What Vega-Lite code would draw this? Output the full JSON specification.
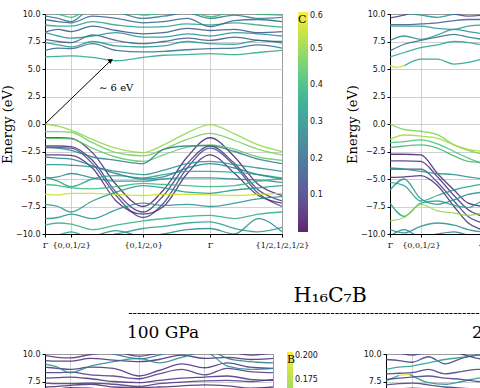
{
"$schema": "https://vega.github.io/schema/vega-lite/v6.json",
"padding": {"left": 0, "top": 9, "right": 0, "bottom": 0},
"autosize": {"type": "pad"},
"datasets": {
"A": [
{"b":"a1","c":0.36,"x":0,"y":6.1},{"b":"a1","c":0.36,"x":0.055,"y":6.15},{"b":"a1","c":0.36,"x":0.11,"y":6.2},{"b":"a1","c":0.36,"x":0.2,"y":6.05},{"b":"a1","c":0.36,"x":0.3,"y":5.75},{"b":"a1","c":0.36,"x":0.414,"y":6.05},{"b":"a1","c":0.36,"x":0.5,"y":6.25},{"b":"a1","c":0.36,"x":0.6,"y":6.3},{"b":"a1","c":0.36,"x":0.696,"y":6.4},{"b":"a1","c":0.36,"x":0.8,"y":6.3},{"b":"a1","c":0.36,"x":0.9,"y":6.5},{"b":"a1","c":0.36,"x":1,"y":6.7},
{"b":"a2","c":0.2,"x":0,"y":6.7},{"b":"a2","c":0.2,"x":0.055,"y":6.9},{"b":"a2","c":0.2,"x":0.11,"y":6.85},{"b":"a2","c":0.2,"x":0.2,"y":7.3},{"b":"a2","c":0.2,"x":0.3,"y":6.7},{"b":"a2","c":0.2,"x":0.414,"y":6.55},{"b":"a2","c":0.2,"x":0.5,"y":6.6},{"b":"a2","c":0.2,"x":0.6,"y":6.75},{"b":"a2","c":0.2,"x":0.696,"y":6.85},{"b":"a2","c":0.2,"x":0.8,"y":6.9},{"b":"a2","c":0.2,"x":0.9,"y":7.2},{"b":"a2","c":0.2,"x":1,"y":6.9},
{"b":"a3","c":0.32,"x":0,"y":7.4},{"b":"a3","c":0.32,"x":0.055,"y":7.2},{"b":"a3","c":0.32,"x":0.11,"y":7.0},{"b":"a3","c":0.32,"x":0.2,"y":7.5},{"b":"a3","c":0.32,"x":0.3,"y":7.1},{"b":"a3","c":0.32,"x":0.414,"y":7.0},{"b":"a3","c":0.32,"x":0.5,"y":7.1},{"b":"a3","c":0.32,"x":0.6,"y":7.5},{"b":"a3","c":0.32,"x":0.696,"y":7.3},{"b":"a3","c":0.32,"x":0.8,"y":7.25},{"b":"a3","c":0.32,"x":0.9,"y":7.6},{"b":"a3","c":0.32,"x":1,"y":7.35},
{"b":"a4","c":0.17,"x":0,"y":7.7},{"b":"a4","c":0.17,"x":0.055,"y":7.5},{"b":"a4","c":0.17,"x":0.11,"y":7.4},{"b":"a4","c":0.17,"x":0.2,"y":8.1},{"b":"a4","c":0.17,"x":0.3,"y":7.6},{"b":"a4","c":0.17,"x":0.414,"y":7.3},{"b":"a4","c":0.17,"x":0.5,"y":7.5},{"b":"a4","c":0.17,"x":0.6,"y":7.8},{"b":"a4","c":0.17,"x":0.696,"y":7.6},{"b":"a4","c":0.17,"x":0.8,"y":7.9},{"b":"a4","c":0.17,"x":0.9,"y":7.6},{"b":"a4","c":0.17,"x":1,"y":7.5},
{"b":"a5","c":0.3,"x":0,"y":8.3},{"b":"a5","c":0.3,"x":0.055,"y":8.0},{"b":"a5","c":0.3,"x":0.11,"y":7.8},{"b":"a5","c":0.3,"x":0.2,"y":8.0},{"b":"a5","c":0.3,"x":0.3,"y":8.3},{"b":"a5","c":0.3,"x":0.414,"y":7.9},{"b":"a5","c":0.3,"x":0.5,"y":7.9},{"b":"a5","c":0.3,"x":0.6,"y":8.2},{"b":"a5","c":0.3,"x":0.696,"y":8.0},{"b":"a5","c":0.3,"x":0.8,"y":8.3},{"b":"a5","c":0.3,"x":0.9,"y":8.2},{"b":"a5","c":0.3,"x":1,"y":8.0},
{"b":"a6","c":0.15,"x":0,"y":8.35},{"b":"a6","c":0.15,"x":0.055,"y":8.6},{"b":"a6","c":0.15,"x":0.11,"y":8.4},{"b":"a6","c":0.15,"x":0.2,"y":8.9},{"b":"a6","c":0.15,"x":0.3,"y":8.5},{"b":"a6","c":0.15,"x":0.414,"y":8.2},{"b":"a6","c":0.15,"x":0.5,"y":8.3},{"b":"a6","c":0.15,"x":0.6,"y":8.7},{"b":"a6","c":0.15,"x":0.696,"y":8.5},{"b":"a6","c":0.15,"x":0.8,"y":8.6},{"b":"a6","c":0.15,"x":0.9,"y":8.3},{"b":"a6","c":0.15,"x":1,"y":8.4},
{"b":"a7","c":0.35,"x":0,"y":9.0},{"b":"a7","c":0.35,"x":0.055,"y":8.9},{"b":"a7","c":0.35,"x":0.11,"y":8.9},{"b":"a7","c":0.35,"x":0.2,"y":9.3},{"b":"a7","c":0.35,"x":0.3,"y":9.0},{"b":"a7","c":0.35,"x":0.414,"y":8.8},{"b":"a7","c":0.35,"x":0.5,"y":8.85},{"b":"a7","c":0.35,"x":0.6,"y":9.1},{"b":"a7","c":0.35,"x":0.696,"y":9.0},{"b":"a7","c":0.35,"x":0.8,"y":9.2},{"b":"a7","c":0.35,"x":0.9,"y":9.0},{"b":"a7","c":0.35,"x":1,"y":8.8},
{"b":"a8","c":0.18,"x":0,"y":9.5},{"b":"a8","c":0.18,"x":0.055,"y":9.3},{"b":"a8","c":0.18,"x":0.11,"y":9.2},{"b":"a8","c":0.18,"x":0.2,"y":9.8},{"b":"a8","c":0.18,"x":0.3,"y":9.6},{"b":"a8","c":0.18,"x":0.414,"y":9.2},{"b":"a8","c":0.18,"x":0.5,"y":9.3},{"b":"a8","c":0.18,"x":0.6,"y":9.6},{"b":"a8","c":0.18,"x":0.696,"y":8.85},{"b":"a8","c":0.18,"x":0.8,"y":9.4},{"b":"a8","c":0.18,"x":0.9,"y":9.5},{"b":"a8","c":0.18,"x":1,"y":9.3},
{"b":"a9","c":0.25,"x":0,"y":9.8},{"b":"a9","c":0.25,"x":0.055,"y":9.6},{"b":"a9","c":0.25,"x":0.11,"y":9.3},{"b":"a9","c":0.25,"x":0.2,"y":10.5},{"b":"a9","c":0.25,"x":0.3,"y":10.2},{"b":"a9","c":0.25,"x":0.414,"y":9.6},{"b":"a9","c":0.25,"x":0.5,"y":9.8},{"b":"a9","c":0.25,"x":0.6,"y":10.1},{"b":"a9","c":0.25,"x":0.696,"y":9.6},{"b":"a9","c":0.25,"x":0.8,"y":9.9},{"b":"a9","c":0.25,"x":0.9,"y":9.6},{"b":"a9","c":0.25,"x":1,"y":9.7},
{"b":"a10","c":0.4,"x":0,"y":10.3},{"b":"a10","c":0.4,"x":0.055,"y":10.0},{"b":"a10","c":0.4,"x":0.11,"y":9.7},{"b":"a10","c":0.4,"x":0.2,"y":10.6},{"b":"a10","c":0.4,"x":0.3,"y":10.5},{"b":"a10","c":0.4,"x":0.414,"y":9.9},{"b":"a10","c":0.4,"x":0.5,"y":10.1},{"b":"a10","c":0.4,"x":0.6,"y":10.3},{"b":"a10","c":0.4,"x":0.696,"y":9.75},{"b":"a10","c":0.4,"x":0.8,"y":10.2},{"b":"a10","c":0.4,"x":0.9,"y":10.0},{"b":"a10","c":0.4,"x":1,"y":9.9},
{"b":"a11","c":0.5,"x":0,"y":0.0},{"b":"a11","c":0.5,"x":0.055,"y":-0.2},{"b":"a11","c":0.5,"x":0.11,"y":-0.55},{"b":"a11","c":0.5,"x":0.2,"y":-1.4},{"b":"a11","c":0.5,"x":0.3,"y":-2.2},{"b":"a11","c":0.5,"x":0.414,"y":-2.6},{"b":"a11","c":0.5,"x":0.5,"y":-1.9},{"b":"a11","c":0.5,"x":0.6,"y":-0.8},{"b":"a11","c":0.5,"x":0.696,"y":-0.05},{"b":"a11","c":0.5,"x":0.8,"y":-0.9},{"b":"a11","c":0.5,"x":0.9,"y":-1.9},{"b":"a11","c":0.5,"x":1,"y":-2.5},
{"b":"a12","c":0.47,"x":0,"y":-0.7},{"b":"a12","c":0.47,"x":0.055,"y":-0.7},{"b":"a12","c":0.47,"x":0.11,"y":-0.75},{"b":"a12","c":0.47,"x":0.2,"y":-1.7},{"b":"a12","c":0.47,"x":0.3,"y":-2.6},{"b":"a12","c":0.47,"x":0.414,"y":-2.9},{"b":"a12","c":0.47,"x":0.5,"y":-2.3},{"b":"a12","c":0.47,"x":0.6,"y":-1.4},{"b":"a12","c":0.47,"x":0.696,"y":-0.85},{"b":"a12","c":0.47,"x":0.8,"y":-1.5},{"b":"a12","c":0.47,"x":0.9,"y":-2.3},{"b":"a12","c":0.47,"x":1,"y":-2.8},
{"b":"a13","c":0.05,"x":0,"y":-1.25},{"b":"a13","c":0.05,"x":0.055,"y":-1.25},{"b":"a13","c":0.05,"x":0.11,"y":-1.3},{"b":"a13","c":0.05,"x":0.2,"y":-2.6},{"b":"a13","c":0.05,"x":0.3,"y":-5.5},{"b":"a13","c":0.05,"x":0.414,"y":-7.5},{"b":"a13","c":0.05,"x":0.5,"y":-6.0},{"b":"a13","c":0.05,"x":0.6,"y":-3.0},{"b":"a13","c":0.05,"x":0.696,"y":-1.25},{"b":"a13","c":0.05,"x":0.8,"y":-3.0},{"b":"a13","c":0.05,"x":0.9,"y":-5.5},{"b":"a13","c":0.05,"x":1,"y":-6.5},
{"b":"a14","c":0.45,"x":0,"y":-1.3},{"b":"a14","c":0.45,"x":0.055,"y":-1.3},{"b":"a14","c":0.45,"x":0.11,"y":-1.35},{"b":"a14","c":0.45,"x":0.2,"y":-2.2},{"b":"a14","c":0.45,"x":0.3,"y":-3.0},{"b":"a14","c":0.45,"x":0.414,"y":-3.4},{"b":"a14","c":0.45,"x":0.5,"y":-2.8},{"b":"a14","c":0.45,"x":0.6,"y":-2.1},{"b":"a14","c":0.45,"x":0.696,"y":-1.9},{"b":"a14","c":0.45,"x":0.8,"y":-2.3},{"b":"a14","c":0.45,"x":0.9,"y":-3.0},{"b":"a14","c":0.45,"x":1,"y":-3.3},
{"b":"a15","c":0.08,"x":0,"y":-2.0},{"b":"a15","c":0.08,"x":0.055,"y":-2.0},{"b":"a15","c":0.08,"x":0.11,"y":-2.05},{"b":"a15","c":0.08,"x":0.2,"y":-3.3},{"b":"a15","c":0.08,"x":0.3,"y":-6.2},{"b":"a15","c":0.08,"x":0.414,"y":-8.0},{"b":"a15","c":0.08,"x":0.5,"y":-6.5},{"b":"a15","c":0.08,"x":0.6,"y":-3.6},{"b":"a15","c":0.08,"x":0.696,"y":-2.0},{"b":"a15","c":0.08,"x":0.8,"y":-3.6},{"b":"a15","c":0.08,"x":0.9,"y":-6.0},{"b":"a15","c":0.08,"x":1,"y":-7.0},
{"b":"a16","c":0.12,"x":0,"y":-2.15},{"b":"a16","c":0.12,"x":0.055,"y":-2.15},{"b":"a16","c":0.12,"x":0.11,"y":-2.2},{"b":"a16","c":0.12,"x":0.2,"y":-3.6},{"b":"a16","c":0.12,"x":0.3,"y":-6.5},{"b":"a16","c":0.12,"x":0.414,"y":-8.5},{"b":"a16","c":0.12,"x":0.5,"y":-7.2},{"b":"a16","c":0.12,"x":0.6,"y":-4.0},{"b":"a16","c":0.12,"x":0.696,"y":-2.2},{"b":"a16","c":0.12,"x":0.8,"y":-3.8},{"b":"a16","c":0.12,"x":0.9,"y":-6.3},{"b":"a16","c":0.12,"x":1,"y":-7.5},
{"b":"a17","c":0.25,"x":0,"y":-2.1},{"b":"a17","c":0.25,"x":0.055,"y":-2.2},{"b":"a17","c":0.25,"x":0.11,"y":-2.4},{"b":"a17","c":0.25,"x":0.2,"y":-3.0},{"b":"a17","c":0.25,"x":0.3,"y":-3.3},{"b":"a17","c":0.25,"x":0.414,"y":-3.6},{"b":"a17","c":0.25,"x":0.5,"y":-2.3},{"b":"a17","c":0.25,"x":0.6,"y":-2.0},{"b":"a17","c":0.25,"x":0.696,"y":-1.97},{"b":"a17","c":0.25,"x":0.8,"y":-2.5},{"b":"a17","c":0.25,"x":0.9,"y":-3.2},{"b":"a17","c":0.25,"x":1,"y":-3.6},
{"b":"a18","c":0.06,"x":0,"y":-2.8},{"b":"a18","c":0.06,"x":0.055,"y":-2.8},{"b":"a18","c":0.06,"x":0.11,"y":-2.85},{"b":"a18","c":0.06,"x":0.2,"y":-4.0},{"b":"a18","c":0.06,"x":0.3,"y":-7.0},{"b":"a18","c":0.06,"x":0.414,"y":-8.2},{"b":"a18","c":0.06,"x":0.5,"y":-7.5},{"b":"a18","c":0.06,"x":0.6,"y":-4.5},{"b":"a18","c":0.06,"x":0.696,"y":-2.8},{"b":"a18","c":0.06,"x":0.8,"y":-4.5},{"b":"a18","c":0.06,"x":0.9,"y":-6.5},{"b":"a18","c":0.06,"x":1,"y":-7.2},
{"b":"a19","c":0.3,"x":0,"y":-3.7},{"b":"a19","c":0.3,"x":0.055,"y":-3.7},{"b":"a19","c":0.3,"x":0.11,"y":-3.75},{"b":"a19","c":0.3,"x":0.2,"y":-3.9},{"b":"a19","c":0.3,"x":0.3,"y":-4.3},{"b":"a19","c":0.3,"x":0.414,"y":-4.6},{"b":"a19","c":0.3,"x":0.5,"y":-4.2},{"b":"a19","c":0.3,"x":0.6,"y":-3.6},{"b":"a19","c":0.3,"x":0.696,"y":-3.4},{"b":"a19","c":0.3,"x":0.8,"y":-3.7},{"b":"a19","c":0.3,"x":0.9,"y":-4.0},{"b":"a19","c":0.3,"x":1,"y":-4.3},
{"b":"a20","c":0.35,"x":0,"y":-4.8},{"b":"a20","c":0.35,"x":0.055,"y":-5.2},{"b":"a20","c":0.35,"x":0.11,"y":-5.7},{"b":"a20","c":0.35,"x":0.2,"y":-5.0},{"b":"a20","c":0.35,"x":0.3,"y":-4.7},{"b":"a20","c":0.35,"x":0.414,"y":-4.9},{"b":"a20","c":0.35,"x":0.5,"y":-4.6},{"b":"a20","c":0.35,"x":0.6,"y":-4.3},{"b":"a20","c":0.35,"x":0.696,"y":-4.3},{"b":"a20","c":0.35,"x":0.8,"y":-4.4},{"b":"a20","c":0.35,"x":0.9,"y":-4.6},{"b":"a20","c":0.35,"x":1,"y":-4.9},
{"b":"a21","c":0.28,"x":0,"y":-4.9},{"b":"a21","c":0.28,"x":0.055,"y":-4.8},{"b":"a21","c":0.28,"x":0.11,"y":-4.5},{"b":"a21","c":0.28,"x":0.2,"y":-4.9},{"b":"a21","c":0.28,"x":0.3,"y":-5.2},{"b":"a21","c":0.28,"x":0.414,"y":-5.2},{"b":"a21","c":0.28,"x":0.5,"y":-5.0},{"b":"a21","c":0.28,"x":0.6,"y":-4.9},{"b":"a21","c":0.28,"x":0.696,"y":-4.9},{"b":"a21","c":0.28,"x":0.8,"y":-5.0},{"b":"a21","c":0.28,"x":0.9,"y":-5.1},{"b":"a21","c":0.28,"x":1,"y":-5.3},
{"b":"a22","c":0.55,"x":0,"y":-6.4},{"b":"a22","c":0.55,"x":0.055,"y":-6.45},{"b":"a22","c":0.55,"x":0.11,"y":-6.3},{"b":"a22","c":0.55,"x":0.2,"y":-6.3},{"b":"a22","c":0.55,"x":0.3,"y":-6.4},{"b":"a22","c":0.55,"x":0.414,"y":-6.5},{"b":"a22","c":0.55,"x":0.5,"y":-6.4},{"b":"a22","c":0.55,"x":0.6,"y":-6.4},{"b":"a22","c":0.55,"x":0.696,"y":-6.45},{"b":"a22","c":0.55,"x":0.8,"y":-6.5},{"b":"a22","c":0.55,"x":0.9,"y":-6.4},{"b":"a22","c":0.55,"x":1,"y":-6.3},
{"b":"a23","c":0.32,"x":0,"y":-7.3},{"b":"a23","c":0.32,"x":0.055,"y":-7.5},{"b":"a23","c":0.32,"x":0.11,"y":-8.0},{"b":"a23","c":0.32,"x":0.2,"y":-7.0},{"b":"a23","c":0.32,"x":0.3,"y":-6.2},{"b":"a23","c":0.32,"x":0.414,"y":-5.6},{"b":"a23","c":0.32,"x":0.5,"y":-5.8},{"b":"a23","c":0.32,"x":0.6,"y":-6.2},{"b":"a23","c":0.32,"x":0.696,"y":-6.3},{"b":"a23","c":0.32,"x":0.8,"y":-6.0},{"b":"a23","c":0.32,"x":0.9,"y":-5.8},{"b":"a23","c":0.32,"x":1,"y":-5.6},
{"b":"a24","c":0.3,"x":0,"y":-8.6},{"b":"a24","c":0.3,"x":0.055,"y":-8.5},{"b":"a24","c":0.3,"x":0.11,"y":-8.2},{"b":"a24","c":0.3,"x":0.2,"y":-8.6},{"b":"a24","c":0.3,"x":0.3,"y":-7.8},{"b":"a24","c":0.3,"x":0.414,"y":-7.2},{"b":"a24","c":0.3,"x":0.5,"y":-7.4},{"b":"a24","c":0.3,"x":0.6,"y":-7.3},{"b":"a24","c":0.3,"x":0.696,"y":-7.5},{"b":"a24","c":0.3,"x":0.8,"y":-7.2},{"b":"a24","c":0.3,"x":0.9,"y":-6.8},{"b":"a24","c":0.3,"x":1,"y":-6.6},
{"b":"a25","c":0.38,"x":0,"y":-9.2},{"b":"a25","c":0.38,"x":0.055,"y":-9.0},{"b":"a25","c":0.38,"x":0.11,"y":-9.1},{"b":"a25","c":0.38,"x":0.2,"y":-9.6},{"b":"a25","c":0.38,"x":0.3,"y":-9.2},{"b":"a25","c":0.38,"x":0.414,"y":-8.8},{"b":"a25","c":0.38,"x":0.5,"y":-8.6},{"b":"a25","c":0.38,"x":0.6,"y":-8.4},{"b":"a25","c":0.38,"x":0.696,"y":-8.3},{"b":"a25","c":0.38,"x":0.8,"y":-8.6},{"b":"a25","c":0.38,"x":0.9,"y":-8.2},{"b":"a25","c":0.38,"x":1,"y":-8.0},
{"b":"a26","c":0.33,"x":0,"y":-10.3},{"b":"a26","c":0.33,"x":0.055,"y":-10.1},{"b":"a26","c":0.33,"x":0.11,"y":-9.8},{"b":"a26","c":0.33,"x":0.2,"y":-10.4},{"b":"a26","c":0.33,"x":0.3,"y":-10.0},{"b":"a26","c":0.33,"x":0.414,"y":-9.5},{"b":"a26","c":0.33,"x":0.5,"y":-9.3},{"b":"a26","c":0.33,"x":0.6,"y":-9.0},{"b":"a26","c":0.33,"x":0.696,"y":-8.9},{"b":"a26","c":0.33,"x":0.8,"y":-9.5},{"b":"a26","c":0.33,"x":0.9,"y":-9.8},{"b":"a26","c":0.33,"x":1,"y":-9.4},
{"b":"a27","c":0.28,"x":0,"y":-10.6},{"b":"a27","c":0.28,"x":0.055,"y":-10.5},{"b":"a27","c":0.28,"x":0.11,"y":-10.4},{"b":"a27","c":0.28,"x":0.2,"y":-10.2},{"b":"a27","c":0.28,"x":0.3,"y":-9.7},{"b":"a27","c":0.28,"x":0.414,"y":-10.2},{"b":"a27","c":0.28,"x":0.5,"y":-10.0},{"b":"a27","c":0.28,"x":0.6,"y":-9.6},{"b":"a27","c":0.28,"x":0.696,"y":-9.5},{"b":"a27","c":0.28,"x":0.8,"y":-10.0},{"b":"a27","c":0.28,"x":0.9,"y":-8.6},{"b":"a27","c":0.28,"x":1,"y":-9.8},
{"b":"a28","c":0.25,"x":0,"y":-3.0},{"b":"a28","c":0.25,"x":0.055,"y":-3.1},{"b":"a28","c":0.25,"x":0.11,"y":-3.2},{"b":"a28","c":0.25,"x":0.2,"y":-3.8},{"b":"a28","c":0.25,"x":0.3,"y":-4.5},{"b":"a28","c":0.25,"x":0.414,"y":-5.0},{"b":"a28","c":0.25,"x":0.5,"y":-4.8},{"b":"a28","c":0.25,"x":0.6,"y":-4.0},{"b":"a28","c":0.25,"x":0.696,"y":-3.6},{"b":"a28","c":0.25,"x":0.8,"y":-4.0},{"b":"a28","c":0.25,"x":0.9,"y":-4.6},{"b":"a28","c":0.25,"x":1,"y":-5.0},
{"b":"a29","c":0.4,"x":0,"y":-5.5},{"b":"a29","c":0.4,"x":0.055,"y":-5.6},{"b":"a29","c":0.4,"x":0.11,"y":-5.8},{"b":"a29","c":0.4,"x":0.2,"y":-5.9},{"b":"a29","c":0.4,"x":0.3,"y":-5.7},{"b":"a29","c":0.4,"x":0.414,"y":-5.4},{"b":"a29","c":0.4,"x":0.5,"y":-5.5},{"b":"a29","c":0.4,"x":0.6,"y":-5.6},{"b":"a29","c":0.4,"x":0.696,"y":-5.7},{"b":"a29","c":0.4,"x":0.8,"y":-5.6},{"b":"a29","c":0.4,"x":0.9,"y":-5.2},{"b":"a29","c":0.4,"x":1,"y":-5.0}
],
"B": [
{"b":"b1","c":0.48,"x":0,"y":0.0},{"b":"b1","c":0.48,"x":0.06,"y":-0.5},{"b":"b1","c":0.48,"x":0.13,"y":-0.66},{"b":"b1","c":0.48,"x":0.2,"y":-0.97},{"b":"b1","c":0.48,"x":0.27,"y":-1.9},{"b":"b1","c":0.48,"x":0.33,"y":-2.4},{"b":"b1","c":0.48,"x":0.39,"y":-2.75},{"b":"b1","c":0.48,"x":0.45,"y":-3.0},
{"b":"b2","c":0.52,"x":0,"y":-1.4},{"b":"b2","c":0.52,"x":0.06,"y":-1.0},{"b":"b2","c":0.52,"x":0.13,"y":-1.1},{"b":"b2","c":0.52,"x":0.2,"y":-1.3},{"b":"b2","c":0.52,"x":0.27,"y":-1.9},{"b":"b2","c":0.52,"x":0.33,"y":-2.3},{"b":"b2","c":0.52,"x":0.39,"y":-2.5},{"b":"b2","c":0.52,"x":0.45,"y":-2.8},
{"b":"b3","c":0.42,"x":0,"y":-1.7},{"b":"b3","c":0.42,"x":0.06,"y":-1.6},{"b":"b3","c":0.42,"x":0.13,"y":-1.45},{"b":"b3","c":0.42,"x":0.2,"y":-1.8},{"b":"b3","c":0.42,"x":0.27,"y":-2.5},{"b":"b3","c":0.42,"x":0.33,"y":-3.1},{"b":"b3","c":0.42,"x":0.39,"y":-3.6},{"b":"b3","c":0.42,"x":0.45,"y":-3.9},
{"b":"b4","c":0.4,"x":0,"y":-2.15},{"b":"b4","c":0.4,"x":0.06,"y":-2.0},{"b":"b4","c":0.4,"x":0.13,"y":-1.9},{"b":"b4","c":0.4,"x":0.2,"y":-2.2},{"b":"b4","c":0.4,"x":0.27,"y":-2.9},{"b":"b4","c":0.4,"x":0.33,"y":-3.4},{"b":"b4","c":0.4,"x":0.39,"y":-3.5},{"b":"b4","c":0.4,"x":0.45,"y":-3.6},
{"b":"b5","c":0.05,"x":0,"y":-2.75},{"b":"b5","c":0.05,"x":0.06,"y":-2.75},{"b":"b5","c":0.05,"x":0.13,"y":-2.8},{"b":"b5","c":0.05,"x":0.2,"y":-4.5},{"b":"b5","c":0.05,"x":0.27,"y":-6.0},{"b":"b5","c":0.05,"x":0.33,"y":-7.2},{"b":"b5","c":0.05,"x":0.39,"y":-7.5},{"b":"b5","c":0.05,"x":0.45,"y":-7.8},
{"b":"b6","c":0.08,"x":0,"y":-3.35},{"b":"b6","c":0.08,"x":0.06,"y":-3.35},{"b":"b6","c":0.08,"x":0.13,"y":-3.4},{"b":"b6","c":0.08,"x":0.2,"y":-4.8},{"b":"b6","c":0.08,"x":0.27,"y":-6.5},{"b":"b6","c":0.08,"x":0.33,"y":-7.8},{"b":"b6","c":0.08,"x":0.39,"y":-8.4},{"b":"b6","c":0.08,"x":0.45,"y":-8.8},
{"b":"b7","c":0.1,"x":0,"y":-4.1},{"b":"b7","c":0.1,"x":0.06,"y":-4.1},{"b":"b7","c":0.1,"x":0.13,"y":-4.1},{"b":"b7","c":0.1,"x":0.2,"y":-5.3},{"b":"b7","c":0.1,"x":0.27,"y":-7.0},{"b":"b7","c":0.1,"x":0.33,"y":-8.4},{"b":"b7","c":0.1,"x":0.39,"y":-9.0},{"b":"b7","c":0.1,"x":0.45,"y":-9.4},
{"b":"b8","c":0.06,"x":0,"y":-4.85},{"b":"b8","c":0.06,"x":0.06,"y":-4.8},{"b":"b8","c":0.06,"x":0.13,"y":-4.7},{"b":"b8","c":0.06,"x":0.2,"y":-5.6},{"b":"b8","c":0.06,"x":0.27,"y":-7.5},{"b":"b8","c":0.06,"x":0.33,"y":-9.0},{"b":"b8","c":0.06,"x":0.39,"y":-9.65},{"b":"b8","c":0.06,"x":0.45,"y":-10.2},
{"b":"b9","c":0.3,"x":0,"y":-4.0},{"b":"b9","c":0.3,"x":0.06,"y":-4.1},{"b":"b9","c":0.3,"x":0.13,"y":-4.3},{"b":"b9","c":0.3,"x":0.2,"y":-4.5},{"b":"b9","c":0.3,"x":0.27,"y":-4.6},{"b":"b9","c":0.3,"x":0.33,"y":-4.8},{"b":"b9","c":0.3,"x":0.39,"y":-5.0},{"b":"b9","c":0.3,"x":0.45,"y":-5.2},
{"b":"b10","c":0.33,"x":0,"y":-5.3},{"b":"b10","c":0.33,"x":0.06,"y":-5.6},{"b":"b10","c":0.33,"x":0.13,"y":-7.0},{"b":"b10","c":0.33,"x":0.2,"y":-6.5},{"b":"b10","c":0.33,"x":0.27,"y":-6.0},{"b":"b10","c":0.33,"x":0.33,"y":-5.7},{"b":"b10","c":0.33,"x":0.39,"y":-5.5},{"b":"b10","c":0.33,"x":0.45,"y":-5.6},
{"b":"b11","c":0.3,"x":0,"y":-6.0},{"b":"b11","c":0.3,"x":0.06,"y":-5.0},{"b":"b11","c":0.3,"x":0.13,"y":-6.8},{"b":"b11","c":0.3,"x":0.2,"y":-7.3},{"b":"b11","c":0.3,"x":0.27,"y":-6.9},{"b":"b11","c":0.3,"x":0.33,"y":-6.4},{"b":"b11","c":0.3,"x":0.39,"y":-6.2},{"b":"b11","c":0.3,"x":0.45,"y":-6.1},
{"b":"b12","c":0.35,"x":0,"y":-7.2},{"b":"b12","c":0.35,"x":0.06,"y":-8.4},{"b":"b12","c":0.35,"x":0.13,"y":-7.2},{"b":"b12","c":0.35,"x":0.2,"y":-7.0},{"b":"b12","c":0.35,"x":0.27,"y":-7.4},{"b":"b12","c":0.35,"x":0.33,"y":-7.6},{"b":"b12","c":0.35,"x":0.39,"y":-7.0},{"b":"b12","c":0.35,"x":0.45,"y":-6.8},
{"b":"b13","c":0.5,"x":0,"y":-8.8},{"b":"b13","c":0.5,"x":0.06,"y":-8.5},{"b":"b13","c":0.5,"x":0.13,"y":-7.3},{"b":"b13","c":0.5,"x":0.2,"y":-7.9},{"b":"b13","c":0.5,"x":0.27,"y":-8.1},{"b":"b13","c":0.5,"x":0.33,"y":-8.3},{"b":"b13","c":0.5,"x":0.39,"y":-8.1},{"b":"b13","c":0.5,"x":0.45,"y":-8.0},
{"b":"b14","c":0.3,"x":0,"y":-9.6},{"b":"b14","c":0.3,"x":0.06,"y":-9.9},{"b":"b14","c":0.3,"x":0.13,"y":-9.3},{"b":"b14","c":0.3,"x":0.2,"y":-9.0},{"b":"b14","c":0.3,"x":0.27,"y":-9.2},{"b":"b14","c":0.3,"x":0.33,"y":-9.6},{"b":"b14","c":0.3,"x":0.39,"y":-9.8},{"b":"b14","c":0.3,"x":0.45,"y":-9.5},
{"b":"b15","c":0.25,"x":0,"y":-10.2},{"b":"b15","c":0.25,"x":0.06,"y":-9.6},{"b":"b15","c":0.25,"x":0.13,"y":-10.3},{"b":"b15","c":0.25,"x":0.2,"y":-10.0},{"b":"b15","c":0.25,"x":0.27,"y":-9.8},{"b":"b15","c":0.25,"x":0.33,"y":-10.1},{"b":"b15","c":0.25,"x":0.39,"y":-10.4},{"b":"b15","c":0.25,"x":0.45,"y":-10.0},
{"b":"b16a","c":0.56,"x":0,"y":5.3},{"b":"b16a","c":0.56,"x":0.03,"y":5.15},{"b":"b16a","c":0.56,"x":0.06,"y":5.3},
{"b":"b16b","c":0.34,"x":0.06,"y":5.3},{"b":"b16b","c":0.34,"x":0.13,"y":5.9},{"b":"b16b","c":0.34,"x":0.2,"y":5.9},{"b":"b16b","c":0.34,"x":0.27,"y":5.45},{"b":"b16b","c":0.34,"x":0.33,"y":5.6},{"b":"b16b","c":0.34,"x":0.39,"y":5.9},{"b":"b16b","c":0.34,"x":0.45,"y":6.0},
{"b":"b17","c":0.35,"x":0,"y":6.1},{"b":"b17","c":0.35,"x":0.06,"y":6.5},{"b":"b17","c":0.35,"x":0.13,"y":6.95},{"b":"b17","c":0.35,"x":0.2,"y":7.2},{"b":"b17","c":0.35,"x":0.27,"y":7.5},{"b":"b17","c":0.35,"x":0.33,"y":7.4},{"b":"b17","c":0.35,"x":0.39,"y":7.2},{"b":"b17","c":0.35,"x":0.45,"y":7.0},
{"b":"b18","c":0.2,"x":0,"y":6.65},{"b":"b18","c":0.2,"x":0.06,"y":7.25},{"b":"b18","c":0.2,"x":0.13,"y":7.6},{"b":"b18","c":0.2,"x":0.2,"y":7.9},{"b":"b18","c":0.2,"x":0.27,"y":8.15},{"b":"b18","c":0.2,"x":0.33,"y":7.9},{"b":"b18","c":0.2,"x":0.39,"y":7.7},{"b":"b18","c":0.2,"x":0.45,"y":7.6},
{"b":"b19","c":0.3,"x":0,"y":7.6},{"b":"b19","c":0.3,"x":0.06,"y":8.0},{"b":"b19","c":0.3,"x":0.13,"y":7.7},{"b":"b19","c":0.3,"x":0.2,"y":8.1},{"b":"b19","c":0.3,"x":0.27,"y":8.6},{"b":"b19","c":0.3,"x":0.33,"y":8.4},{"b":"b19","c":0.3,"x":0.39,"y":8.2},{"b":"b19","c":0.3,"x":0.45,"y":8.0},
{"b":"b20","c":0.32,"x":0,"y":8.9},{"b":"b20","c":0.32,"x":0.06,"y":8.9},{"b":"b20","c":0.32,"x":0.13,"y":8.9},{"b":"b20","c":0.32,"x":0.2,"y":8.7},{"b":"b20","c":0.32,"x":0.27,"y":8.6},{"b":"b20","c":0.32,"x":0.33,"y":8.9},{"b":"b20","c":0.32,"x":0.39,"y":9.0},{"b":"b20","c":0.32,"x":0.45,"y":8.8},
{"b":"b21","c":0.17,"x":0,"y":9.04},{"b":"b21","c":0.17,"x":0.06,"y":9.04},{"b":"b21","c":0.17,"x":0.13,"y":9.1},{"b":"b21","c":0.17,"x":0.2,"y":9.2},{"b":"b21","c":0.17,"x":0.27,"y":9.4},{"b":"b21","c":0.17,"x":0.33,"y":9.5},{"b":"b21","c":0.17,"x":0.39,"y":9.5},{"b":"b21","c":0.17,"x":0.45,"y":9.3},
{"b":"b22","c":0.1,"x":0,"y":9.64},{"b":"b22","c":0.1,"x":0.06,"y":9.9},{"b":"b22","c":0.1,"x":0.13,"y":10.3},{"b":"b22","c":0.1,"x":0.2,"y":10.2},{"b":"b22","c":0.1,"x":0.27,"y":10.0},{"b":"b22","c":0.1,"x":0.33,"y":9.8},{"b":"b22","c":0.1,"x":0.39,"y":9.9},{"b":"b22","c":0.1,"x":0.45,"y":10.2},
{"b":"b23","c":0.3,"x":0,"y":10.3},{"b":"b23","c":0.3,"x":0.06,"y":10.1},{"b":"b23","c":0.3,"x":0.13,"y":9.9},{"b":"b23","c":0.3,"x":0.2,"y":9.7},{"b":"b23","c":0.3,"x":0.27,"y":10.0},{"b":"b23","c":0.3,"x":0.33,"y":10.3},{"b":"b23","c":0.3,"x":0.39,"y":10.1},{"b":"b23","c":0.3,"x":0.45,"y":9.8}
],
"C": [
{"b":"c1","c":0.03,"x":0,"y":9.85},{"b":"c1","c":0.03,"x":0.055,"y":9.7},{"b":"c1","c":0.03,"x":0.11,"y":9.65},{"b":"c1","c":0.03,"x":0.2,"y":9.95},{"b":"c1","c":0.03,"x":0.3,"y":10.2},{"b":"c1","c":0.03,"x":0.414,"y":9.8},{"b":"c1","c":0.03,"x":0.5,"y":10.1},{"b":"c1","c":0.03,"x":0.6,"y":10.3},{"b":"c1","c":0.03,"x":0.7,"y":10.1},{"b":"c1","c":0.03,"x":0.8,"y":10.2},{"b":"c1","c":0.03,"x":0.9,"y":9.9},{"b":"c1","c":0.03,"x":1,"y":10.1},
{"b":"c2","c":0.02,"x":0,"y":9.4},{"b":"c2","c":0.02,"x":0.055,"y":9.35},{"b":"c2","c":0.02,"x":0.11,"y":9.35},{"b":"c2","c":0.02,"x":0.2,"y":9.6},{"b":"c2","c":0.02,"x":0.3,"y":9.45},{"b":"c2","c":0.02,"x":0.414,"y":9.3},{"b":"c2","c":0.02,"x":0.5,"y":9.5},{"b":"c2","c":0.02,"x":0.6,"y":9.9},{"b":"c2","c":0.02,"x":0.7,"y":9.6},{"b":"c2","c":0.02,"x":0.8,"y":9.7},{"b":"c2","c":0.02,"x":0.9,"y":9.5},{"b":"c2","c":0.02,"x":1,"y":9.6},
{"b":"c3","c":0.025,"x":0,"y":8.8},{"b":"c3","c":0.025,"x":0.055,"y":8.7},{"b":"c3","c":0.025,"x":0.11,"y":8.6},{"b":"c3","c":0.025,"x":0.2,"y":8.8},{"b":"c3","c":0.025,"x":0.3,"y":8.7},{"b":"c3","c":0.025,"x":0.414,"y":8.0},{"b":"c3","c":0.025,"x":0.5,"y":8.5},{"b":"c3","c":0.025,"x":0.6,"y":9.1},{"b":"c3","c":0.025,"x":0.7,"y":8.75},{"b":"c3","c":0.025,"x":0.8,"y":9.2},{"b":"c3","c":0.025,"x":0.9,"y":8.8},{"b":"c3","c":0.025,"x":1,"y":8.7},
{"b":"c4","c":0.03,"x":0,"y":8.3},{"b":"c4","c":0.03,"x":0.055,"y":8.3},{"b":"c4","c":0.03,"x":0.11,"y":8.35},{"b":"c4","c":0.03,"x":0.2,"y":8.1},{"b":"c4","c":0.03,"x":0.3,"y":8.0},{"b":"c4","c":0.03,"x":0.414,"y":7.75},{"b":"c4","c":0.03,"x":0.5,"y":8.2},{"b":"c4","c":0.03,"x":0.6,"y":8.6},{"b":"c4","c":0.03,"x":0.7,"y":8.1},{"b":"c4","c":0.03,"x":0.8,"y":8.7},{"b":"c4","c":0.03,"x":0.9,"y":8.4},{"b":"c4","c":0.03,"x":1,"y":8.3},
{"b":"c5","c":0.09,"x":0,"y":9.1},{"b":"c5","c":0.09,"x":0.055,"y":8.8},{"b":"c5","c":0.09,"x":0.11,"y":8.3},{"b":"c5","c":0.09,"x":0.2,"y":8.9},{"b":"c5","c":0.09,"x":0.3,"y":9.3},{"b":"c5","c":0.09,"x":0.414,"y":9.6},{"b":"c5","c":0.09,"x":0.5,"y":9.2},{"b":"c5","c":0.09,"x":0.6,"y":9.7},{"b":"c5","c":0.09,"x":0.7,"y":10.2},{"b":"c5","c":0.09,"x":0.8,"y":8.9},{"b":"c5","c":0.09,"x":0.9,"y":8.6},{"b":"c5","c":0.09,"x":1,"y":8.7},
{"b":"c6","c":0.025,"x":0,"y":7.8},{"b":"c6","c":0.025,"x":0.055,"y":7.85},{"b":"c6","c":0.025,"x":0.11,"y":7.9},{"b":"c6","c":0.025,"x":0.2,"y":7.75},{"b":"c6","c":0.025,"x":0.3,"y":7.5},{"b":"c6","c":0.025,"x":0.414,"y":7.4},{"b":"c6","c":0.025,"x":0.5,"y":7.6},{"b":"c6","c":0.025,"x":0.6,"y":7.8},{"b":"c6","c":0.025,"x":0.7,"y":7.9},{"b":"c6","c":0.025,"x":0.8,"y":8.0},{"b":"c6","c":0.025,"x":0.9,"y":7.7},{"b":"c6","c":0.025,"x":1,"y":7.6},
{"b":"c7","c":0.03,"x":0,"y":7.35},{"b":"c7","c":0.03,"x":0.055,"y":7.3},{"b":"c7","c":0.03,"x":0.11,"y":7.3},{"b":"c7","c":0.03,"x":0.2,"y":7.35},{"b":"c7","c":0.03,"x":0.3,"y":7.25},{"b":"c7","c":0.03,"x":0.414,"y":7.05},{"b":"c7","c":0.03,"x":0.5,"y":7.3},{"b":"c7","c":0.03,"x":0.6,"y":7.45},{"b":"c7","c":0.03,"x":0.7,"y":7.55},{"b":"c7","c":0.03,"x":0.8,"y":7.6},{"b":"c7","c":0.03,"x":0.9,"y":7.5},{"b":"c7","c":0.03,"x":1,"y":7.7},
{"b":"c8","c":0.02,"x":0,"y":7.0},{"b":"c8","c":0.02,"x":0.055,"y":7.05},{"b":"c8","c":0.02,"x":0.11,"y":7.15},{"b":"c8","c":0.02,"x":0.2,"y":7.25},{"b":"c8","c":0.02,"x":0.3,"y":7.0},{"b":"c8","c":0.02,"x":0.414,"y":6.95},{"b":"c8","c":0.02,"x":0.5,"y":7.0},{"b":"c8","c":0.02,"x":0.6,"y":7.1},{"b":"c8","c":0.02,"x":0.7,"y":7.2},{"b":"c8","c":0.02,"x":0.8,"y":7.1},{"b":"c8","c":0.02,"x":0.9,"y":6.9},{"b":"c8","c":0.02,"x":1,"y":7.0},
{"b":"c9","c":0.025,"x":0,"y":6.6},{"b":"c9","c":0.025,"x":0.055,"y":6.8},{"b":"c9","c":0.025,"x":0.11,"y":6.95},{"b":"c9","c":0.025,"x":0.2,"y":6.9},{"b":"c9","c":0.025,"x":0.3,"y":6.7},{"b":"c9","c":0.025,"x":0.414,"y":6.6},{"b":"c9","c":0.025,"x":0.5,"y":6.7},{"b":"c9","c":0.025,"x":0.6,"y":6.8},{"b":"c9","c":0.025,"x":0.7,"y":6.8},{"b":"c9","c":0.025,"x":0.8,"y":6.7},{"b":"c9","c":0.025,"x":0.9,"y":6.6},{"b":"c9","c":0.025,"x":1,"y":6.5},
{"b":"c10","c":0.08,"x":0,"y":10.5},{"b":"c10","c":0.08,"x":0.055,"y":10.3},{"b":"c10","c":0.08,"x":0.11,"y":10.1},{"b":"c10","c":0.08,"x":0.2,"y":10.3},{"b":"c10","c":0.08,"x":0.3,"y":10.0},{"b":"c10","c":0.08,"x":0.414,"y":9.55},{"b":"c10","c":0.08,"x":0.5,"y":9.9},{"b":"c10","c":0.08,"x":0.6,"y":10.4},{"b":"c10","c":0.08,"x":0.7,"y":10.5},{"b":"c10","c":0.08,"x":0.8,"y":9.6},{"b":"c10","c":0.08,"x":0.9,"y":9.3},{"b":"c10","c":0.08,"x":1,"y":9.2}
],
"D": [
{"b":"d1","c":0.03,"x":0,"y":9.5},{"b":"d1","c":0.03,"x":0.055,"y":9.4},{"b":"d1","c":0.03,"x":0.11,"y":9.25},{"b":"d1","c":0.03,"x":0.18,"y":9.75},{"b":"d1","c":0.03,"x":0.25,"y":9.1},{"b":"d1","c":0.03,"x":0.32,"y":9.6},{"b":"d1","c":0.03,"x":0.39,"y":9.9},{"b":"d1","c":0.03,"x":0.46,"y":9.7},
{"b":"d2","c":0.11,"x":0,"y":8.6},{"b":"d2","c":0.11,"x":0.055,"y":8.8},{"b":"d2","c":0.11,"x":0.11,"y":8.9},{"b":"d2","c":0.11,"x":0.18,"y":9.2},{"b":"d2","c":0.11,"x":0.25,"y":9.5},{"b":"d2","c":0.11,"x":0.32,"y":9.7},{"b":"d2","c":0.11,"x":0.39,"y":9.9},{"b":"d2","c":0.11,"x":0.46,"y":10.2},
{"b":"d3a","c":0.12,"x":0,"y":7.55},{"b":"d3a","c":0.12,"x":0.055,"y":8.05},
{"b":"d3b","c":0.19,"x":0.055,"y":8.05},{"b":"d3b","c":0.19,"x":0.1,"y":8.15},
{"b":"d3c","c":0.1,"x":0.1,"y":8.15},{"b":"d3c","c":0.1,"x":0.18,"y":7.4},{"b":"d3c","c":0.1,"x":0.25,"y":7.25},{"b":"d3c","c":0.1,"x":0.32,"y":7.5},{"b":"d3c","c":0.1,"x":0.39,"y":7.8},{"b":"d3c","c":0.1,"x":0.46,"y":8.0},
{"b":"d4","c":0.03,"x":0,"y":8.2},{"b":"d4","c":0.03,"x":0.055,"y":8.25},{"b":"d4","c":0.03,"x":0.11,"y":8.3},{"b":"d4","c":0.03,"x":0.18,"y":8.6},{"b":"d4","c":0.03,"x":0.25,"y":8.2},{"b":"d4","c":0.03,"x":0.32,"y":8.4},{"b":"d4","c":0.03,"x":0.39,"y":8.6},{"b":"d4","c":0.03,"x":0.46,"y":8.5},
{"b":"d5","c":0.035,"x":0,"y":7.7},{"b":"d5","c":0.035,"x":0.055,"y":7.8},{"b":"d5","c":0.035,"x":0.11,"y":7.9},{"b":"d5","c":0.035,"x":0.18,"y":8.0},{"b":"d5","c":0.035,"x":0.25,"y":7.8},{"b":"d5","c":0.035,"x":0.32,"y":7.7},{"b":"d5","c":0.035,"x":0.39,"y":7.5},{"b":"d5","c":0.035,"x":0.46,"y":7.4},
{"b":"d6","c":0.03,"x":0,"y":7.2},{"b":"d6","c":0.03,"x":0.055,"y":7.3},{"b":"d6","c":0.03,"x":0.11,"y":7.35},{"b":"d6","c":0.03,"x":0.18,"y":7.2},{"b":"d6","c":0.03,"x":0.25,"y":7.0},{"b":"d6","c":0.03,"x":0.32,"y":6.9},{"b":"d6","c":0.03,"x":0.39,"y":6.8},{"b":"d6","c":0.03,"x":0.46,"y":6.7},
{"b":"d7","c":0.03,"x":0,"y":10.3},{"b":"d7","c":0.03,"x":0.055,"y":10.1},{"b":"d7","c":0.03,"x":0.11,"y":9.9},{"b":"d7","c":0.03,"x":0.18,"y":10.2},{"b":"d7","c":0.03,"x":0.25,"y":10.4},{"b":"d7","c":0.03,"x":0.32,"y":10.0},{"b":"d7","c":0.03,"x":0.39,"y":9.6},{"b":"d7","c":0.03,"x":0.46,"y":9.4},
{"b":"d8","c":0.025,"x":0,"y":6.7},{"b":"d8","c":0.025,"x":0.055,"y":6.8},{"b":"d8","c":0.025,"x":0.11,"y":6.9},{"b":"d8","c":0.025,"x":0.18,"y":6.8},{"b":"d8","c":0.025,"x":0.25,"y":6.6},{"b":"d8","c":0.025,"x":0.32,"y":6.5},{"b":"d8","c":0.025,"x":0.39,"y":6.4},{"b":"d8","c":0.025,"x":0.46,"y":6.3}
],
"arrow": [{"x":0,"y":0,"x2":0.278,"y2":5.78}],
"head": [{"x":0.278,"y":5.78}],
"note": [{"x":0.228,"y":3.27,"t":"∼ 6 eV"}]
},
"vconcat": [
{
"hconcat": [
{
"width": 237, "height": 220,
"encoding": {
  "x": {"field": "x", "type": "quantitative", "scale": {"domain": [0, 1], "nice": false, "zero": false},
        "axis": {"values": [0, 0.11, 0.414, 0.696, 1], "title": null, "labelExpr": "datum.value < 0.01 ? 'Γ' : datum.value < 0.2 ? '{0,0,1/2}' : datum.value < 0.5 ? '{0,1/2,0}' : datum.value < 0.9 ? 'Γ' : '{1/2,1/2,1/2}'",
                 "labelFont": "DejaVu Serif", "labelFontSize": {"condition": {"test": "datum.label == 'Γ'", "value": 10.5}, "value": 8},
                 "labelBaseline": "alphabetic", "labelPadding": 10, "labelFlush": false, "labelOverlap": false}},
  "y": {"field": "y", "type": "quantitative", "scale": {"domain": [-10, 10], "nice": false},
        "axis": {"values": [-10, -7.5, -5, -2.5, 0, 2.5, 5, 7.5, 10], "format": ".1f", "title": "Energy (eV)", "labelOverlap": false}}
},
"layer": [
{"data": {"name": "A"},
 "mark": {"type": "line", "clip": true, "strokeWidth": 1.3, "opacity": 0.85, "interpolate": "monotone"},
 "encoding": {
  "detail": {"field": "b", "type": "nominal"},
  "color": {"field": "c", "type": "quantitative", "scale": {"scheme": "viridis", "domain": [0, 0.6]},
            "legend": {"title": "C", "values": [0.1, 0.2, 0.3, 0.4, 0.5, 0.6], "format": ".1f", "gradientLength": 220, "gradientThickness": 10, "offset": 16, "titlePadding": -13}}
 }},
{"data": {"name": "arrow"}, "mark": {"type": "rule", "color": "black", "strokeWidth": 1},
 "encoding": {"x2": {"field": "x2"}, "y2": {"field": "y2"}}},
{"data": {"name": "head"}, "mark": {"type": "point", "shape": "triangle-up", "filled": true, "color": "black", "size": 30, "angle": 56, "opacity": 1},
 "encoding": {}},
{"data": {"name": "note"}, "mark": {"type": "text", "align": "left", "baseline": "middle", "font": "DejaVu Serif", "fontSize": 10, "color": "black"},
 "encoding": {"text": {"field": "t"}}}
]
},
{
"width": 237, "height": 220,
"data": {"name": "B"},
"mark": {"type": "line", "clip": true, "strokeWidth": 1.3, "opacity": 0.85, "interpolate": "monotone"},
"encoding": {
  "x": {"field": "x", "type": "quantitative", "scale": {"domain": [0, 1], "nice": false, "zero": false},
        "axis": {"values": [0, 0.13, 0.45, 0.73, 1], "title": null, "labelExpr": "datum.value < 0.01 ? 'Γ' : datum.value < 0.2 ? '{0,0,1/2}' : datum.value < 0.5 ? '{0,1/2,0}' : datum.value < 0.9 ? 'Γ' : '{1/2,1/2,1/2}'",
                 "labelFont": "DejaVu Serif", "labelFontSize": {"condition": {"test": "datum.label == 'Γ'", "value": 10.5}, "value": 8},
                 "labelBaseline": "alphabetic", "labelPadding": 10, "labelFlush": false, "labelOverlap": false}},
  "y": {"field": "y", "type": "quantitative", "scale": {"domain": [-10, 10], "nice": false},
        "axis": {"values": [-10, -7.5, -5, -2.5, 0, 2.5, 5, 7.5, 10], "format": ".1f", "title": "Energy (eV)", "labelOverlap": false}},
  "detail": {"field": "b", "type": "nominal"},
  "color": {"field": "c", "type": "quantitative", "scale": {"scheme": "viridis", "domain": [0, 0.6]},
            "legend": {"title": "C", "values": [0.1, 0.2, 0.3, 0.4, 0.5, 0.6], "format": ".1f", "gradientLength": 220, "gradientThickness": 10, "offset": 16, "titlePadding": -13}}
}
}
],
"spacing": 21,
"resolve": {"scale": {"color": "independent", "x": "independent", "y": "independent"}, "legend": {"color": "independent"}, "axis": {"x": "independent", "y": "independent"}}
},
{
"title": {"text": "H₁₆C₇B", "subtitle": "--------------------------------------------------------------------------------------------", "anchor": "middle", "dx": -4, "fontSize": 20.5, "font": "DejaVu Serif", "fontWeight": "normal", "color": "black", "subtitleFont": "DejaVu Serif", "subtitleFontSize": 13, "subtitleColor": "black", "subtitlePadding": 0, "offset": 4},
"hconcat": [
{
"width": 228, "height": 220,
"title": {"text": "100 GPa", "fontSize": 17, "font": "DejaVu Serif", "fontWeight": "normal", "color": "black", "anchor": "middle", "offset": 8, "dx": 4},
"data": {"name": "C"},
"mark": {"type": "line", "clip": true, "strokeWidth": 1.3, "opacity": 0.85, "interpolate": "monotone"},
"encoding": {
  "x": {"field": "x", "type": "quantitative", "scale": {"domain": [0, 1], "nice": false, "zero": false},
        "axis": {"values": [0, 0.11, 0.414, 0.697, 1], "title": null, "labelExpr": "datum.value < 0.01 ? 'Γ' : datum.value < 0.2 ? '{0,0,1/2}' : datum.value < 0.5 ? '{0,1/2,0}' : datum.value < 0.9 ? 'Γ' : '{1/2,1/2,1/2}'",
                 "labelFont": "DejaVu Serif", "labelFontSize": {"condition": {"test": "datum.label == 'Γ'", "value": 10.5}, "value": 8},
                 "labelBaseline": "alphabetic", "labelPadding": 10, "labelFlush": false, "labelOverlap": false}},
  "y": {"field": "y", "type": "quantitative", "scale": {"domain": [-10, 10], "nice": false},
        "axis": {"values": [-10, -7.5, -5, -2.5, 0, 2.5, 5, 7.5, 10], "format": ".1f", "title": "Energy (eV)", "labelOverlap": false}},
  "detail": {"field": "b", "type": "nominal"},
  "color": {"field": "c", "type": "quantitative", "scale": {"scheme": "viridis", "domain": [0, 0.2]},
            "legend": {"title": "B", "values": [0.025, 0.05, 0.075, 0.1, 0.125, 0.15, 0.175, 0.2], "format": ".3f", "gradientLength": 220, "gradientThickness": 6, "offset": 14, "titlePadding": -13}}
}
},
{
"width": 236, "height": 220,
"title": {"text": "200 GPa", "fontSize": 17, "font": "DejaVu Serif", "fontWeight": "normal", "color": "black", "anchor": "middle", "offset": 8, "dx": 4},
"data": {"name": "D"},
"mark": {"type": "line", "clip": true, "strokeWidth": 1.3, "opacity": 0.85, "interpolate": "monotone"},
"encoding": {
  "x": {"field": "x", "type": "quantitative", "scale": {"domain": [0, 1], "nice": false, "zero": false},
        "axis": {"values": [0, 0.11, 0.414, 0.697, 1], "title": null, "labelExpr": "datum.value < 0.01 ? 'Γ' : datum.value < 0.2 ? '{0,0,1/2}' : datum.value < 0.5 ? '{0,1/2,0}' : datum.value < 0.9 ? 'Γ' : '{1/2,1/2,1/2}'",
                 "labelFont": "DejaVu Serif", "labelFontSize": {"condition": {"test": "datum.label == 'Γ'", "value": 10.5}, "value": 8},
                 "labelBaseline": "alphabetic", "labelPadding": 10, "labelFlush": false, "labelOverlap": false}},
  "y": {"field": "y", "type": "quantitative", "scale": {"domain": [-10, 10], "nice": false},
        "axis": {"values": [-10, -7.5, -5, -2.5, 0, 2.5, 5, 7.5, 10], "format": ".1f", "title": "Energy (eV)", "labelOverlap": false}},
  "detail": {"field": "b", "type": "nominal"},
  "color": {"field": "c", "type": "quantitative", "scale": {"scheme": "viridis", "domain": [0, 0.2]},
            "legend": {"title": "B", "values": [0.025, 0.05, 0.075, 0.1, 0.125, 0.15, 0.175, 0.2], "format": ".3f", "gradientLength": 220, "gradientThickness": 6, "offset": 14, "titlePadding": -13}}
}
}
],
"spacing": 22,
"resolve": {"scale": {"color": "independent", "x": "independent", "y": "independent"}, "legend": {"color": "independent"}, "axis": {"x": "independent", "y": "independent"}}
}
],
"spacing": 36,
"resolve": {"scale": {"color": "independent", "x": "independent", "y": "independent"}, "legend": {"color": "independent"}, "axis": {"x": "independent", "y": "independent"}},
"config": {
 "view": {"stroke": "#000", "strokeWidth": 1},
 "axis": {"gridColor": "#c4c4c4", "gridWidth": 0.8, "domainColor": "#000", "tickColor": "#000", "labelColor": "#111", "titleColor": "#000", "labelFont": "DejaVu Sans", "labelFontSize": 8, "tickSize": 3, "labelPadding": 2, "titleFont": "DejaVu Serif", "titleFontSize": 13, "titleFontWeight": "normal", "titlePadding": 1},
 "legend": {"labelFont": "DejaVu Sans", "labelFontSize": 8, "labelColor": "#111", "titleFont": "DejaVu Serif", "titleFontSize": 11, "titleFontWeight": "normal", "titleColor": "#000", "gradientStrokeWidth": 0, "labelOffset": 5}
}
}
